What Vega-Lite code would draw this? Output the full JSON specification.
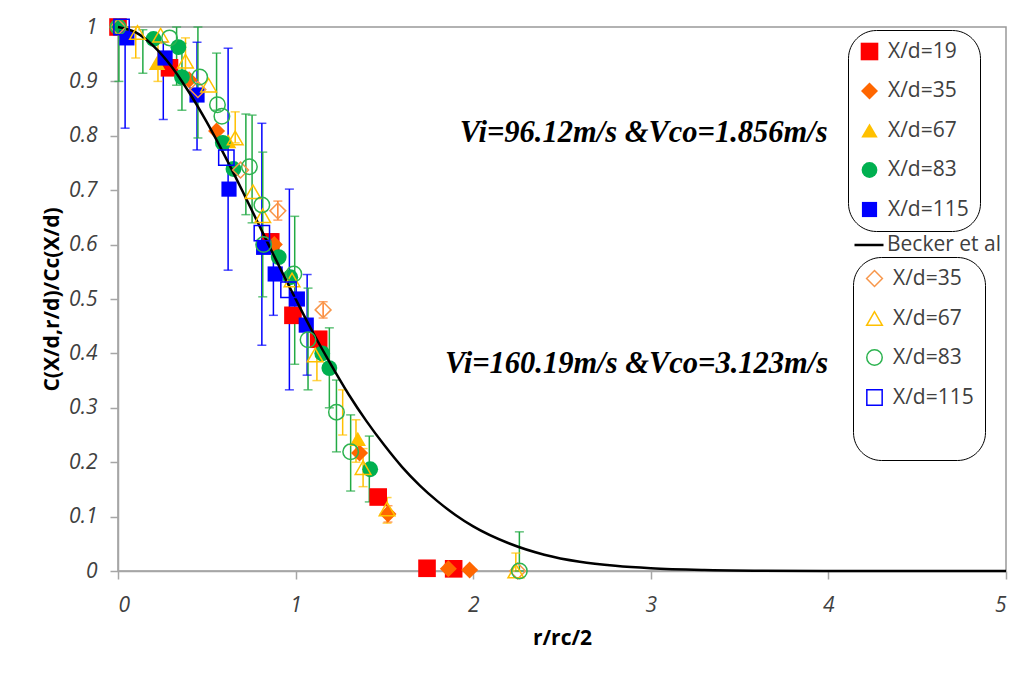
{
  "$schema": "https://vega.github.io/schema/vega-lite/v6.json",
  "width": 888,
  "height": 544,
  "autosize": {"type": "none"},
  "padding": {"left": 118, "top": 27, "right": 15, "bottom": 102},
  "background": "white",
  "config": {
    "view": {"stroke": "#999999", "strokeWidth": 1.5},
    "axis": {
      "domainColor": "#a6a6a6", "domainWidth": 1.5,
      "tickColor": "#a6a6a6", "tickSize": 8, "tickWidth": 1.5,
      "grid": false,
      "labelFont": "Open Sans", "labelFontStyle": "italic", "labelFontSize": 21, "labelColor": "#404040",
      "titleFont": "Open Sans", "titleFontSize": 21, "titleFontWeight": "bold", "titleColor": "#000000"
    }
  },
  "datasets": {
    "pts": [
      {"s": "19", "x": 0.0, "y": 1.0}, {"s": "19", "x": 0.29, "y": 0.925}, {"s": "19", "x": 0.86, "y": 0.605}, {"s": "19", "x": 0.985, "y": 0.47}, {"s": "19", "x": 1.13, "y": 0.426}, {"s": "19", "x": 1.465, "y": 0.136}, {"s": "19", "x": 1.74, "y": 0.005}, {"s": "19", "x": 1.89, "y": 0.004},
      {"s": "35", "x": 0.0, "y": 1.0}, {"s": "35", "x": 0.40, "y": 0.903}, {"s": "35", "x": 0.555, "y": 0.809}, {"s": "35", "x": 0.88, "y": 0.60}, {"s": "35", "x": 1.36, "y": 0.217}, {"s": "35", "x": 1.52, "y": 0.105}, {"s": "35", "x": 1.86, "y": 0.004}, {"s": "35", "x": 1.98, "y": 0.002},
      {"s": "67", "x": 0.05, "y": 0.99}, {"s": "67", "x": 0.22, "y": 0.934}, {"s": "67", "x": 0.62, "y": 0.79}, {"s": "67", "x": 1.35, "y": 0.243},
      {"s": "83", "x": 0.0, "y": 1.0}, {"s": "83", "x": 0.2, "y": 0.978}, {"s": "83", "x": 0.34, "y": 0.963}, {"s": "83", "x": 0.36, "y": 0.908}, {"s": "83", "x": 0.59, "y": 0.787}, {"s": "83", "x": 0.65, "y": 0.739}, {"s": "83", "x": 0.905, "y": 0.577}, {"s": "83", "x": 0.97, "y": 0.54}, {"s": "83", "x": 1.15, "y": 0.40}, {"s": "83", "x": 1.19, "y": 0.373}, {"s": "83", "x": 1.42, "y": 0.187},
      {"s": "115", "x": 0.05, "y": 0.98}, {"s": "115", "x": 0.265, "y": 0.943}, {"s": "115", "x": 0.445, "y": 0.875}, {"s": "115", "x": 0.625, "y": 0.702}, {"s": "115", "x": 0.82, "y": 0.595}, {"s": "115", "x": 0.885, "y": 0.546}, {"s": "115", "x": 1.01, "y": 0.50}, {"s": "115", "x": 1.06, "y": 0.452}
    ],
    "opts": [
      {"s": "o35", "x": 0.0, "y": 1.0}, {"s": "o35", "x": 0.45, "y": 0.885}, {"s": "o35", "x": 0.69, "y": 0.737}, {"s": "o35", "x": 0.90, "y": 0.662}, {"s": "o35", "x": 1.155, "y": 0.48}, {"s": "o35", "x": 2.25, "y": 0.0},
      {"s": "o67", "x": 0.11, "y": 0.99}, {"s": "o67", "x": 0.24, "y": 0.985}, {"s": "o67", "x": 0.38, "y": 0.937}, {"s": "o67", "x": 0.51, "y": 0.893}, {"s": "o67", "x": 0.66, "y": 0.796}, {"s": "o67", "x": 0.76, "y": 0.697}, {"s": "o67", "x": 0.815, "y": 0.653}, {"s": "o67", "x": 0.98, "y": 0.535}, {"s": "o67", "x": 1.11, "y": 0.397}, {"s": "o67", "x": 1.38, "y": 0.19}, {"s": "o67", "x": 1.515, "y": 0.114}, {"s": "o67", "x": 2.24, "y": 0.0},
      {"s": "o83", "x": 0.0, "y": 1.0}, {"s": "o83", "x": 0.29, "y": 0.98}, {"s": "o83", "x": 0.46, "y": 0.908}, {"s": "o83", "x": 0.56, "y": 0.857}, {"s": "o83", "x": 0.585, "y": 0.836}, {"s": "o83", "x": 0.74, "y": 0.743}, {"s": "o83", "x": 0.81, "y": 0.673}, {"s": "o83", "x": 0.82, "y": 0.60}, {"s": "o83", "x": 0.99, "y": 0.546}, {"s": "o83", "x": 1.07, "y": 0.425}, {"s": "o83", "x": 1.23, "y": 0.292}, {"s": "o83", "x": 1.31, "y": 0.219}, {"s": "o83", "x": 2.26, "y": 0.0},
      {"s": "o115", "x": 0.02, "y": 1.0}, {"s": "o115", "x": 0.61, "y": 0.76}, {"s": "o115", "x": 0.81, "y": 0.621}, {"s": "o115", "x": 0.96, "y": 0.517}
    ],
    "bars": [
      {"c": "b", "x": 0.04, "lo": 0.814, "hi": 1.0},
      {"c": "g", "x": 0.005, "lo": 0.90, "hi": 1.0},
      {"c": "y", "x": 0.10, "lo": 0.943, "hi": 1.0},
      {"c": "g", "x": 0.14, "lo": 0.915, "hi": 0.995},
      {"c": "y", "x": 0.225, "lo": 0.90, "hi": 0.97},
      {"c": "b", "x": 0.255, "lo": 0.83, "hi": 0.972},
      {"c": "g", "x": 0.33, "lo": 0.893, "hi": 1.0},
      {"c": "g", "x": 0.36, "lo": 0.847, "hi": 0.97},
      {"c": "y", "x": 0.38, "lo": 0.897, "hi": 0.98},
      {"c": "b", "x": 0.445, "lo": 0.774, "hi": 0.972},
      {"c": "g", "x": 0.45, "lo": 0.796, "hi": 1.0},
      {"c": "g", "x": 0.555, "lo": 0.847, "hi": 0.952},
      {"c": "b", "x": 0.62, "lo": 0.553, "hi": 0.961},
      {"c": "y", "x": 0.66, "lo": 0.787, "hi": 0.844},
      {"c": "g", "x": 0.72, "lo": 0.655, "hi": 0.84},
      {"c": "g", "x": 0.755, "lo": 0.64, "hi": 0.838},
      {"c": "b", "x": 0.81, "lo": 0.415, "hi": 0.823},
      {"c": "g", "x": 0.815, "lo": 0.504, "hi": 0.77},
      {"c": "b", "x": 0.875, "lo": 0.47, "hi": 0.62},
      {"c": "o", "x": 0.90, "lo": 0.645, "hi": 0.68},
      {"c": "b", "x": 0.965, "lo": 0.333, "hi": 0.702},
      {"c": "g", "x": 0.995, "lo": 0.38, "hi": 0.652},
      {"c": "b", "x": 1.065, "lo": 0.36, "hi": 0.545},
      {"c": "g", "x": 1.07, "lo": 0.333, "hi": 0.52},
      {"c": "y", "x": 1.12, "lo": 0.35, "hi": 0.44},
      {"c": "o", "x": 1.155, "lo": 0.465, "hi": 0.495},
      {"c": "g", "x": 1.19, "lo": 0.30, "hi": 0.447},
      {"c": "g", "x": 1.23, "lo": 0.219, "hi": 0.351},
      {"c": "y", "x": 1.265, "lo": 0.25, "hi": 0.333},
      {"c": "g", "x": 1.31, "lo": 0.147, "hi": 0.287},
      {"c": "y", "x": 1.34, "lo": 0.20, "hi": 0.278},
      {"c": "y", "x": 1.38, "lo": 0.155, "hi": 0.225},
      {"c": "g", "x": 1.415, "lo": 0.127, "hi": 0.248},
      {"c": "y", "x": 1.515, "lo": 0.088, "hi": 0.135},
      {"c": "o", "x": 1.52, "lo": 0.09, "hi": 0.12},
      {"c": "o", "x": 1.86, "lo": 0.0, "hi": 0.012},
      {"c": "o", "x": 1.98, "lo": 0.0, "hi": 0.008},
      {"c": "y", "x": 2.24, "lo": 0.0, "hi": 0.033},
      {"c": "g", "x": 2.26, "lo": 0.0, "hi": 0.072}
    ],
    "curve": [
      {"n": "Becker et al", "x": 0.0, "y": 1.0}, {"n": "Becker et al", "x": 0.1, "y": 0.990}, {"n": "Becker et al", "x": 0.2, "y": 0.965}, {"n": "Becker et al", "x": 0.3, "y": 0.928}, {"n": "Becker et al", "x": 0.4, "y": 0.880},
      {"n": "Becker et al", "x": 0.5, "y": 0.825}, {"n": "Becker et al", "x": 0.6, "y": 0.764}, {"n": "Becker et al", "x": 0.7, "y": 0.699}, {"n": "Becker et al", "x": 0.8, "y": 0.632}, {"n": "Becker et al", "x": 0.9, "y": 0.565},
      {"n": "Becker et al", "x": 1.0, "y": 0.5}, {"n": "Becker et al", "x": 1.1, "y": 0.437}, {"n": "Becker et al", "x": 1.2, "y": 0.379}, {"n": "Becker et al", "x": 1.3, "y": 0.324}, {"n": "Becker et al", "x": 1.4, "y": 0.275},
      {"n": "Becker et al", "x": 1.5, "y": 0.231}, {"n": "Becker et al", "x": 1.6, "y": 0.191}, {"n": "Becker et al", "x": 1.7, "y": 0.157}, {"n": "Becker et al", "x": 1.8, "y": 0.128}, {"n": "Becker et al", "x": 1.9, "y": 0.103},
      {"n": "Becker et al", "x": 2.0, "y": 0.082}, {"n": "Becker et al", "x": 2.2, "y": 0.051}, {"n": "Becker et al", "x": 2.4, "y": 0.030}, {"n": "Becker et al", "x": 2.6, "y": 0.017}, {"n": "Becker et al", "x": 2.8, "y": 0.0095},
      {"n": "Becker et al", "x": 3.0, "y": 0.005}, {"n": "Becker et al", "x": 3.3, "y": 0.0018}, {"n": "Becker et al", "x": 3.6, "y": 0.0006}, {"n": "Becker et al", "x": 4.0, "y": 0.0001}, {"n": "Becker et al", "x": 4.5, "y": 0.0}, {"n": "Becker et al", "x": 5.0, "y": 0.0}
    ],
    "ann": [
      {"x": 2.96, "y": 0.789, "t": "Vi=96.12m/s &Vco=1.856m/s"},
      {"x": 2.92, "y": 0.364, "t": "Vi=160.19m/s &Vco=3.123m/s"}
    ]
  },
  "layer": [
    {
      "data": {"name": "bars"},
      "mark": {"type": "rule", "strokeWidth": 1.5},
      "encoding": {
        "x": {"field": "x", "type": "quantitative", "title": "r/rc/2", "scale": {"domain": [0, 5], "nice": false}, "axis": {"values": [0, 1, 2, 3, 4, 5], "format": "d", "labelPadding": 15, "titlePadding": 12}},
        "y": {"field": "lo", "type": "quantitative", "title": "C(X/d,r/d)/Cc(X/d)", "scale": {"domain": [0, 1], "nice": false}, "axis": {"values": [0, 0.1, 0.2, 0.3, 0.4, 0.5, 0.6, 0.7, 0.8, 0.9, 1], "format": "~g", "labelPadding": 13, "titlePadding": 6}},
        "y2": {"field": "hi"},
        "color": {"field": "c", "type": "nominal", "legend": null, "scale": {"domain": ["b", "g", "y", "o"], "range": ["#0000FF", "#22AA44", "#FFC000", "#FF7F2A"]}}
      }
    },
    {
      "data": {"name": "bars"},
      "mark": {"type": "tick", "orient": "horizontal", "size": 9, "thickness": 1.5},
      "encoding": {
        "x": {"field": "x", "type": "quantitative", "title": "r/rc/2"},
        "y": {"field": "lo", "type": "quantitative", "title": "C(X/d,r/d)/Cc(X/d)"},
        "color": {"field": "c", "type": "nominal", "legend": null, "scale": {"domain": ["b", "g", "y", "o"], "range": ["#0000FF", "#22AA44", "#FFC000", "#FF7F2A"]}}
      }
    },
    {
      "data": {"name": "bars"},
      "mark": {"type": "tick", "orient": "horizontal", "size": 9, "thickness": 1.5},
      "encoding": {
        "x": {"field": "x", "type": "quantitative", "title": "r/rc/2"},
        "y": {"field": "hi", "type": "quantitative", "title": "C(X/d,r/d)/Cc(X/d)"},
        "color": {"field": "c", "type": "nominal", "legend": null, "scale": {"domain": ["b", "g", "y", "o"], "range": ["#0000FF", "#22AA44", "#FFC000", "#FF7F2A"]}}
      }
    },
    {
      "data": {"name": "pts"},
      "mark": {"type": "point", "filled": true, "opacity": 1},
      "encoding": {
        "x": {"field": "x", "type": "quantitative", "title": "r/rc/2"},
        "y": {"field": "y", "type": "quantitative", "title": "C(X/d,r/d)/Cc(X/d)"},
        "color": {"field": "s", "type": "nominal",
          "scale": {"domain": ["19", "35", "67", "83", "115"], "range": ["#FF0000", "#FF6600", "#FFC000", "#00B050", "#0000FF"]},
          "legend": {"orient": "none", "legendX": 730, "legendY": 3, "title": null, "strokeColor": "#000000", "cornerRadius": 28, "padding": 11, "rowPadding": 17.5, "symbolSize": 200, "labelFont": "Open Sans", "labelFontSize": 21, "labelColor": "#404040", "labelOffset": 8, "labelExpr": "'X/d=' + datum.label"}},
        "shape": {"field": "s", "type": "nominal", "scale": {"domain": ["19", "35", "67", "83", "115"], "range": ["square", "diamond", "triangle-up", "circle", "square"]}},
        "size": {"field": "s", "type": "nominal", "legend": null, "scale": {"domain": ["19", "35", "67", "83", "115"], "range": [310, 230, 230, 200, 310]}}
      }
    },
    {
      "data": {"name": "curve"},
      "mark": {"type": "line", "strokeWidth": 2.5, "interpolate": "monotone"},
      "encoding": {
        "x": {"field": "x", "type": "quantitative", "title": "r/rc/2"},
        "y": {"field": "y", "type": "quantitative", "title": "C(X/d,r/d)/Cc(X/d)"},
        "stroke": {"field": "n", "type": "nominal", "scale": {"domain": ["Becker et al"], "range": ["#000000"]},
          "legend": {"orient": "none", "legendX": 735, "legendY": 202, "title": null, "padding": 0, "symbolType": "stroke", "symbolSize": 841, "symbolStrokeWidth": 2.5, "labelFont": "Open Sans", "labelFontSize": 21, "labelColor": "#404040", "labelOffset": 2}}
      }
    },
    {
      "data": {"name": "opts"},
      "mark": {"type": "point", "filled": false, "strokeWidth": 1.5, "opacity": 1},
      "encoding": {
        "x": {"field": "x", "type": "quantitative", "title": "r/rc/2"},
        "y": {"field": "y", "type": "quantitative", "title": "C(X/d,r/d)/Cc(X/d)"},
        "color": {"field": "s", "type": "nominal",
          "scale": {"domain": ["o35", "o67", "o83", "o115", "blank"], "range": ["#F7964A", "#FFC000", "#2DB350", "#0000FF", "transparent"]},
          "legend": {"orient": "none", "legendX": 735, "legendY": 230, "title": null, "strokeColor": "#000000", "cornerRadius": 28, "padding": 11, "rowPadding": 17, "symbolSize": 180, "symbolStrokeWidth": 1.5, "labelFont": "Open Sans", "labelFontSize": 21, "labelColor": "#404040", "labelOffset": 8, "labelExpr": "datum.label == 'blank' ? '' : 'X/d=' + replace(datum.label, 'o', '')"}},
        "shape": {"field": "s", "type": "nominal", "scale": {"domain": ["o35", "o67", "o83", "o115", "blank"], "range": ["diamond", "triangle-up", "circle", "square", "circle"]}},
        "size": {"field": "s", "type": "nominal", "legend": null, "scale": {"domain": ["o35", "o67", "o83", "o115", "blank"], "range": [250, 230, 210, 270, 0]}}
      }
    },
    {
      "mark": {"type": "rule", "color": "#000000", "strokeWidth": 2},
      "encoding": {"y": {"datum": 1}}
    },
    {
      "data": {"name": "ann"},
      "mark": {"type": "text", "font": "Liberation Serif", "fontStyle": "italic", "fontWeight": "bold", "fontSize": 30.5, "align": "center", "baseline": "alphabetic", "color": "#000000"},
      "encoding": {
        "x": {"field": "x", "type": "quantitative", "title": "r/rc/2"},
        "y": {"field": "y", "type": "quantitative", "title": "C(X/d,r/d)/Cc(X/d)"},
        "text": {"field": "t"}
      }
    }
  ],
  "resolve": {
    "scale": {"color": "independent", "shape": "independent", "size": "independent", "stroke": "independent"},
    "legend": {"color": "independent", "shape": "independent", "stroke": "independent"}
  }
}
